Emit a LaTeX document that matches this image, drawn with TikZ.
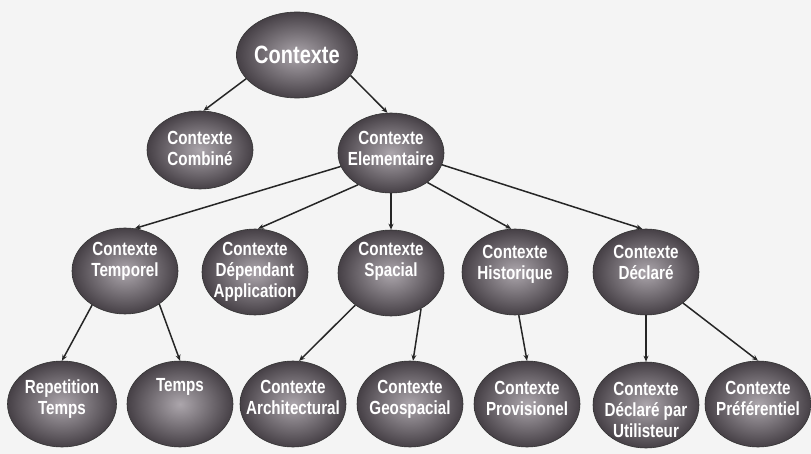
\documentclass[tikz,border=0pt]{standalone}
\usepackage{fontspec}
\newfontfamily\labfont{Liberation Sans}[FakeStretch=0.8]
\usetikzlibrary{shapes.geometric,arrows.meta}
\definecolor{ballin}{RGB}{172,166,172}
\definecolor{ballout}{RGB}{70,64,70}
\definecolor{bg}{RGB}{244,244,244}
\tikzset{
  ball/.style={ellipse, draw=black!80, line width=0.6pt, inner sep=0pt,
    minimum width=106pt, minimum height=86pt,
    shading=radial, inner color=ballin, outer color=ballout},
  lab/.style={text=white, align=center, inner sep=0pt, anchor=north,
    font=\labfont\bfseries\fontsize{19}{21}\selectfont},
  conn/.style={draw=black!85, line width=1.5pt,
    -{Stealth[length=6pt,width=5pt]}}
}
\newcommand{\lbl}[3]{\node[lab] at ([yshift=#2pt]#1.center) {#3};}
\begin{document}
\begin{tikzpicture}[x=1pt,y=-1pt]
\fill[bg] (0,0) rectangle (811,454);
\useasboundingbox (0,0) rectangle (811,454);
% root
\node[ball, minimum width=106pt, minimum height=86pt, text=white,
  font=\labfont\bfseries\fontsize{25}{28}\selectfont] (root) at (297,55) {Contexte};
% level 2
\node[ball, minimum height=78pt] (comb) at (200,150) {};
\node[ball, minimum height=80pt] (elem) at (391,153) {};
% level 3
\node[ball] (temp) at (125,271) {};
\node[ball] (dep)  at (255,272) {};
\node[ball] (spac) at (391,273) {};
\node[ball] (hist) at (515,272) {};
\node[ball] (decl) at (646,272) {};
% level 4
\node[ball, minimum width=109pt] (rep)  at (62,404) {};
\node[ball] (temps) at (180,404) {};
\node[ball] (arch) at (293,404) {};
\node[ball] (geo)  at (410,404) {};
\node[ball] (prov) at (527,404) {};
\node[ball] (dpu)  at (646,405) {};
\node[ball] (pref) at (758,404) {};
% labels
\lbl{comb}{19}{Contexte\\Combiné}
\lbl{elem}{22}{Contexte\\Elementaire}
\lbl{temp}{29}{Contexte\\Temporel}
\lbl{dep}{30}{Contexte\\Dépendant\\Application}
\lbl{spac}{30.5}{Contexte\\Spacial}
\lbl{hist}{27}{Contexte\\Historique}
\lbl{decl}{27}{Contexte\\Déclaré}
\lbl{rep}{24}{Repetition\\Temps}
\lbl{temps}{26}{Temps}
\lbl{arch}{24}{Contexte\\Architectural}
\lbl{geo}{24}{Contexte\\Geospacial}
\lbl{prov}{23}{Contexte\\Provisionel}
\lbl{dpu}{23}{Contexte\\Déclaré par\\Utilisteur}
\lbl{pref}{23}{Contexte\\Préférentiel}
% connectors
\draw[conn] (root.205) -- (comb.85);
\draw[conn] (root.339) -- (elem.95);
\draw[conn] (elem.195) -- (temp.77);
\draw[conn] (elem.224) -- (dep.86);
\draw[conn] (elem.south) -- (spac.north);
\draw[conn] (elem.321) -- (hist.95);
\draw[conn] (elem.347) -- (decl.95);
\draw[conn] (temp.226) -- (rep.north);
\draw[conn] (temp.316) -- (temps.north);
\draw[conn] (spac.222) -- (arch.82);
\draw[conn] (spac.310) -- (geo.86);
\draw[conn] (hist.275) -- (prov.north);
\draw[conn] (decl.south) -- (dpu.north);
\draw[conn] (decl.320) -- (pref.north);
\end{tikzpicture}
\end{document}
